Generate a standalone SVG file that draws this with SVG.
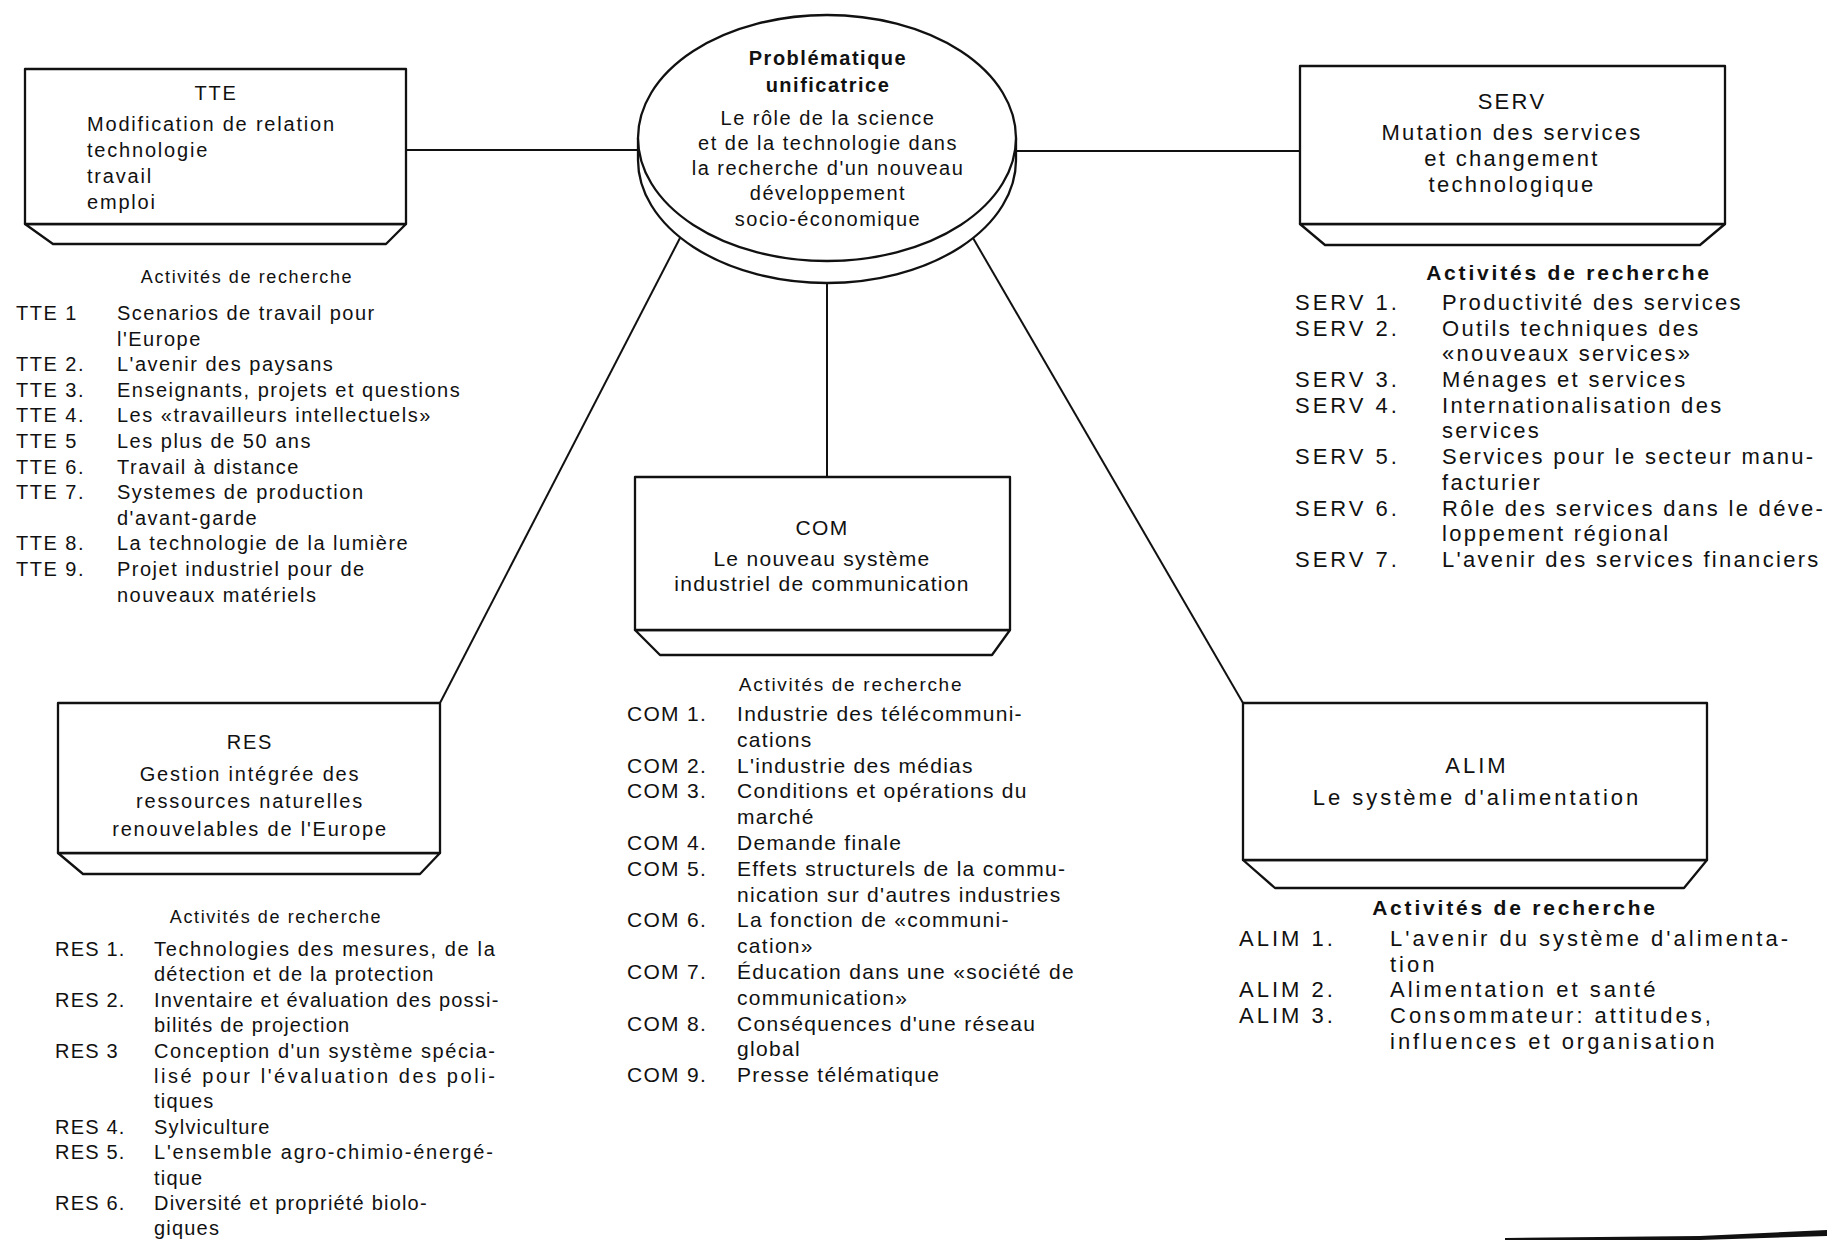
<svg xmlns="http://www.w3.org/2000/svg" width="1827" height="1242" viewBox="0 0 1827 1242">
<style>
.face{fill:#fff;stroke:#111;stroke-width:2.3;stroke-linejoin:round}
.bev{fill:#fff;stroke:#111;stroke-width:2.3;stroke-linejoin:round}
.conn{stroke:#111;stroke-width:2;fill:none}
text{font-family:"Liberation Sans",Arial,sans-serif;fill:#111}
.c{text-anchor:middle}
.ell{font-size:20px;letter-spacing:1.5px}
.ellb{font-size:20px;letter-spacing:1.5px;font-weight:bold}
.t1{font-size:20px;letter-spacing:1.8px}
.hd{font-size:18px;letter-spacing:1.6px}
.hdc{font-size:19px;letter-spacing:1.7px}
.hds{font-size:21px;letter-spacing:2.8px;font-weight:bold}
.tte{font-size:20px;letter-spacing:1.5px}
.res{font-size:20px;letter-spacing:1.2px}
.com{font-size:21px;letter-spacing:1.3px}
.serv{font-size:22px;letter-spacing:2.3px}
.alim{font-size:22px;letter-spacing:3px}
.lab{letter-spacing:3px}
</style>

<g id="connectors">
<line class="conn" x1="406" y1="150" x2="639" y2="150"/>
<line class="conn" x1="1015" y1="151" x2="1300" y2="151"/>
<line class="conn" x1="680" y1="238" x2="440" y2="703"/>
<line class="conn" x1="827" y1="284" x2="827" y2="477"/>
<line class="conn" x1="973" y1="238" x2="1243" y2="703"/>
</g>

<g id="central">
<path class="face" d="M638,138 L638,160 A189,123 0 0 0 1016,160 L1016,138"/>
<ellipse class="face" cx="827" cy="138" rx="189" ry="123"/>
<text class="ellb c" x="828" y="65">Problématique</text>
<text class="ellb c" x="828" y="92">unificatrice</text>
<text class="ell c" x="828" y="125">Le rôle de la science</text>
<text class="ell c" x="828" y="150">et de la technologie dans</text>
<text class="ell c" x="828" y="175">la recherche d'un nouveau</text>
<text class="ell c" x="828" y="200">développement</text>
<text class="ell c" x="828" y="226">socio-économique</text>
</g>

<g id="TTE">
<polygon class="bev" points="25,224 406,224 386,244 53,244"/>
<rect class="face" x="25" y="69" width="381" height="155"/>
<text class="t1 c" x="216" y="100">TTE</text>
<text class="t1" x="87" y="131">Modification de relation</text>
<text class="t1" x="87" y="157">technologie</text>
<text class="t1" x="87" y="183">travail</text>
<text class="t1" x="87" y="209">emploi</text>
</g>

<g id="TTE-activites" class="tte">
<text class="hd c" x="247" y="283">Activités de recherche</text>
<text x="16" y="320">TTE 1</text><text x="117" y="320">Scenarios de travail pour</text>
<text x="117" y="346">l'Europe</text>
<text x="16" y="371">TTE 2.</text><text x="117" y="371">L'avenir des paysans</text>
<text x="16" y="397">TTE 3.</text><text x="117" y="397">Enseignants, projets et questions</text>
<text x="16" y="422">TTE 4.</text><text x="117" y="422">Les «travailleurs intellectuels»</text>
<text x="16" y="448">TTE 5</text><text x="117" y="448">Les plus de 50 ans</text>
<text x="16" y="474">TTE 6.</text><text x="117" y="474">Travail à distance</text>
<text x="16" y="499">TTE 7.</text><text x="117" y="499">Systemes de production</text>
<text x="117" y="525">d'avant-garde</text>
<text x="16" y="550">TTE 8.</text><text x="117" y="550">La technologie de la lumière</text>
<text x="16" y="576">TTE 9.</text><text x="117" y="576">Projet industriel pour de</text>
<text x="117" y="602">nouveaux matériels</text>
</g>

<g id="SERV">
<polygon class="bev" points="1300,224 1725,224 1700,245 1325,245"/>
<rect class="face" x="1300" y="66" width="425" height="158"/>
<text class="serv c" x="1512" y="109">SERV</text>
<text class="serv c" x="1512" y="140">Mutation des services</text>
<text class="serv c" x="1512" y="166">et changement</text>
<text class="serv c" x="1512" y="192">technologique</text>
</g>

<g id="SERV-activites" class="serv">
<text class="hds c" x="1569" y="280">Activités de recherche</text>
<text class="lab" x="1295" y="310">SERV 1.</text><text x="1442" y="310">Productivité des services</text>
<text class="lab" x="1295" y="336">SERV 2.</text><text x="1442" y="336">Outils techniques des</text>
<text x="1442" y="361">«nouveaux services»</text>
<text class="lab" x="1295" y="387">SERV 3.</text><text x="1442" y="387">Ménages et services</text>
<text class="lab" x="1295" y="413">SERV 4.</text><text x="1442" y="413">Internationalisation des</text>
<text x="1442" y="438">services</text>
<text class="lab" x="1295" y="464">SERV 5.</text><text x="1442" y="464">Services pour le secteur manu-</text>
<text x="1442" y="490">facturier</text>
<text class="lab" x="1295" y="516">SERV 6.</text><text x="1442" y="516">Rôle des services dans le déve-</text>
<text x="1442" y="541">loppement régional</text>
<text class="lab" x="1295" y="567">SERV 7.</text><text x="1442" y="567">L'avenir des services financiers</text>
</g>

<g id="COM">
<polygon class="bev" points="635,630 1010,630 992,655 660,655"/>
<rect class="face" x="635" y="477" width="375" height="153"/>
<text class="com c" x="822" y="535">COM</text>
<text class="com c" x="822" y="566">Le nouveau système</text>
<text class="com c" x="822" y="591">industriel de communication</text>
</g>

<g id="COM-activites" class="com">
<text class="hdc c" x="851" y="691">Activités de recherche</text>
<text x="627" y="721">COM 1.</text><text x="737" y="721">Industrie des télécommuni-</text>
<text x="737" y="747">cations</text>
<text x="627" y="773">COM 2.</text><text x="737" y="773">L'industrie des médias</text>
<text x="627" y="798">COM 3.</text><text x="737" y="798">Conditions et opérations du</text>
<text x="737" y="824">marché</text>
<text x="627" y="850">COM 4.</text><text x="737" y="850">Demande finale</text>
<text x="627" y="876">COM 5.</text><text x="737" y="876">Effets structurels de la commu-</text>
<text x="737" y="902">nication sur d'autres industries</text>
<text x="627" y="927">COM 6.</text><text x="737" y="927">La fonction de «communi-</text>
<text x="737" y="953">cation»</text>
<text x="627" y="979">COM 7.</text><text x="737" y="979">Éducation dans une «société de</text>
<text x="737" y="1005">communication»</text>
<text x="627" y="1031">COM 8.</text><text x="737" y="1031">Conséquences d'une réseau</text>
<text x="737" y="1056">global</text>
<text x="627" y="1082">COM 9.</text><text x="737" y="1082">Presse télématique</text>
</g>

<g id="RES">
<polygon class="bev" points="58,853 440,853 420,874 83,874"/>
<rect class="face" x="58" y="703" width="382" height="150"/>
<text class="t1 c" x="250" y="749">RES</text>
<text class="t1 c" x="250" y="781">Gestion intégrée des</text>
<text class="t1 c" x="250" y="808">ressources naturelles</text>
<text class="t1 c" x="250" y="836">renouvelables de l'Europe</text>
</g>

<g id="RES-activites" class="res">
<text class="hd c" x="276" y="923">Activités de recherche</text>
<text x="55" y="956">RES 1.</text><text x="154" y="956" textLength="342" lengthAdjust="spacing">Technologies des mesures, de la</text>
<text x="154" y="981">détection et de la protection</text>
<text x="55" y="1007">RES 2.</text><text x="154" y="1007">Inventaire et évaluation des possi-</text>
<text x="154" y="1032">bilités de projection</text>
<text x="55" y="1058">RES 3</text><text x="154" y="1058" textLength="342" lengthAdjust="spacing">Conception d'un système spécia-</text>
<text x="154" y="1083" textLength="342" lengthAdjust="spacing">lisé pour l'évaluation des poli-</text>
<text x="154" y="1108">tiques</text>
<text x="55" y="1134">RES 4.</text><text x="154" y="1134">Sylviculture</text>
<text x="55" y="1159">RES 5.</text><text x="154" y="1159" textLength="340" lengthAdjust="spacing">L'ensemble agro-chimio-énergé-</text>
<text x="154" y="1185">tique</text>
<text x="55" y="1210">RES 6.</text><text x="154" y="1210">Diversité et propriété biolo-</text>
<text x="154" y="1235">giques</text>
</g>

<g id="ALIM">
<polygon class="bev" points="1243,860 1707,860 1684,888 1275,888"/>
<rect class="face" x="1243" y="703" width="464" height="157"/>
<text class="alim c" x="1477" y="773">ALIM</text>
<text class="alim c" x="1477" y="805">Le système d'alimentation</text>
</g>

<g id="ALIM-activites" class="alim">
<text class="hds c" x="1515" y="915">Activités de recherche</text>
<text class="lab" x="1239" y="946">ALIM 1.</text><text x="1390" y="946">L'avenir du système d'alimenta-</text>
<text x="1390" y="972">tion</text>
<text class="lab" x="1239" y="997">ALIM 2.</text><text x="1390" y="997">Alimentation et santé</text>
<text class="lab" x="1239" y="1023">ALIM 3.</text><text x="1390" y="1023">Consommateur: attitudes,</text>
<text x="1390" y="1049">influences et organisation</text>
</g>

<path d="M1505,1238 L1700,1236 L1827,1230 L1827,1236 L1700,1240 L1505,1240 Z" fill="#111"/>
</svg>
